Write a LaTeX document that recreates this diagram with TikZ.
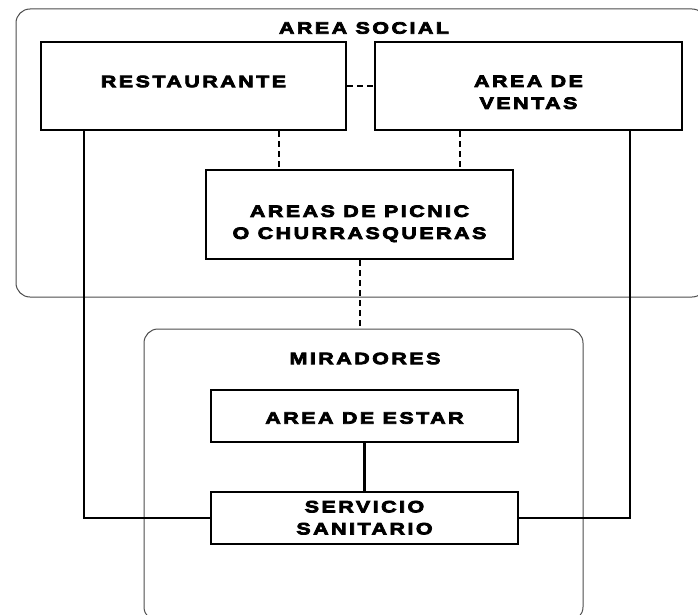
\documentclass[tikz,border=0pt]{standalone}
\usepackage{fontspec}
\newfontfamily\lf{Liberation Sans Bold}[FakeStretch=1.3,FakeBold=4.5,LetterSpace=15]
\newcommand{\shiftlbl}[2]{\raisebox{#1}[\height][\depth]{#2}}
\begin{document}
\begin{tikzpicture}[x=1pt,y=-1pt,
  box/.style={draw=black,line width=2pt,rectangle,inner sep=0pt},
  frame/.style={draw=black!70,line width=1pt,rounded corners=14pt,rectangle,inner sep=0pt},
  lbl/.style={font=\fontsize{16.5}{22}\lf,align=center},
  dashln/.style={draw=black,line width=2pt,dash pattern=on 6pt off 4pt},
  link/.style={draw=black,line width=2.5pt}]
\useasboundingbox (0,0) rectangle (698,615);
% frames
\node[frame,minimum width=690,minimum height=288] (social) at (361,153) {};
\node[frame,minimum width=439,minimum height=292] (mir) at (363.5,475) {};
\node[lbl] (tsocial) at (364,28) {AREA SOCIAL};
\node[lbl] (tmir) at (365,358.5) {MIRADORES};
% boxes
\node[box,lbl,minimum width=305,minimum height=88] (rest) at (193.5,86) {\shiftlbl{4.5pt}{RESTAURANTE}};
\node[box,lbl,minimum width=307,minimum height=88] (ventas) at (528.5,86) {\shiftlbl{-7.5pt}{\begin{tabular}{@{}c@{}}AREA DE\\VENTAS\end{tabular}}};
\node[box,lbl,minimum width=307,minimum height=89] (picnic) at (359.5,214.5) {\shiftlbl{-9pt}{\begin{tabular}{@{}c@{}}AREAS DE PICNIC\\O CHURRASQUERAS\end{tabular}}};
\node[box,lbl,minimum width=307,minimum height=52] (estar) at (364.5,416) {\shiftlbl{-2pt}{AREA DE ESTAR}};
\node[box,lbl,minimum width=307,minimum height=52] (serv) at (364.5,518) {\shiftlbl{-1pt}{\begin{tabular}{@{}c@{}}SERVICIO\\SANITARIO\end{tabular}}};
% dashed connectors
\draw[dashln] (rest.east) -- (ventas.west);
\draw[dashln] ([xshift=74pt]picnic.north west |- rest.south) -- ([xshift=74pt]picnic.north west);
\draw[dashln] ([xshift=255pt]picnic.north west |- ventas.south) -- ([xshift=255pt]picnic.north west);
\draw[dashln] (picnic.south) -- (picnic.south |- mir.north);
% solid connectors
\draw[link] (estar.south -| serv.north) -- (serv.north);
\draw[link] ([xshift=44pt]rest.south west) |- (serv.west);
\draw[link] ([xshift=256pt]ventas.south west) |- (serv.east);
\end{tikzpicture}
\end{document}
